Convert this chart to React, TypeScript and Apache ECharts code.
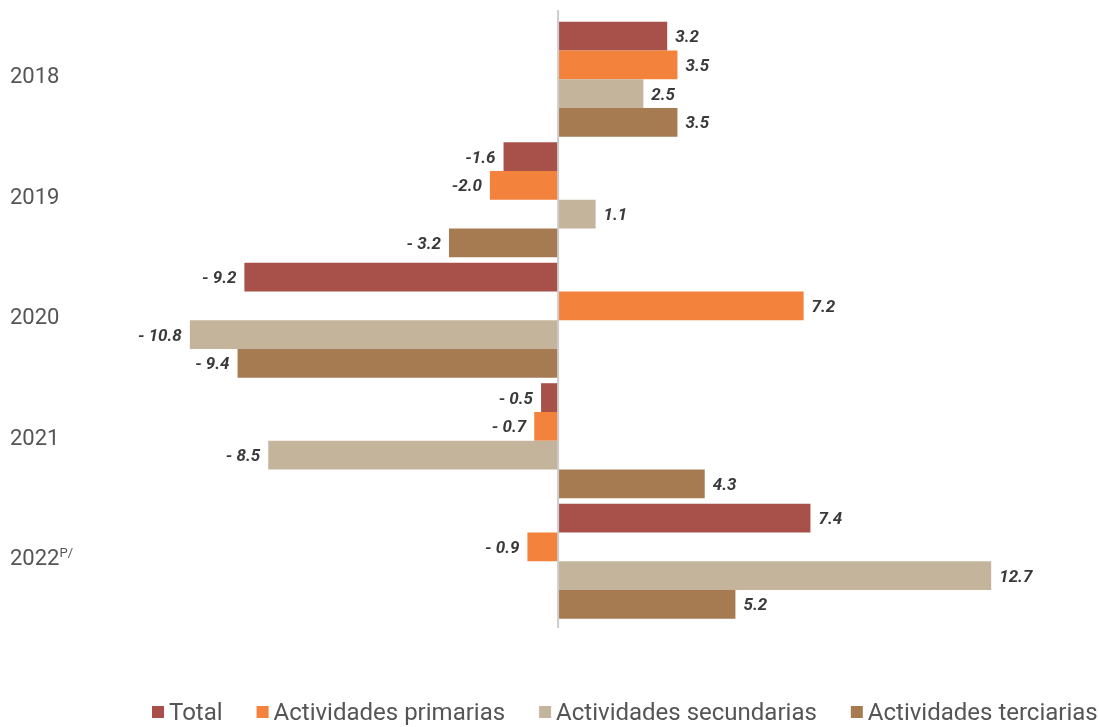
import React, { useEffect, useRef } from "react";
import * as echarts from "echarts";

const categories = ["2018", "2019", "2020", "2021", "2022P/"];
const seriesNames = ["Total", "Actividades primarias", "Actividades secundarias", "Actividades terciarias"];
const totalValues = [3.2, -1.6, -9.2, -0.5, 7.4];
const primariasValues = [3.5, -2.0, 7.2, -0.7, -0.9];
const secundariasValues = [2.5, 1.1, -10.8, -8.5, 12.7];
const terciariasValues = [3.5, -3.2, -9.4, 4.3, 5.2];
const totalLabels = ["3.2", "-1.6", "- 9.2", "- 0.5", "7.4"];
const primariasLabels = ["3.5", "-2.0", "7.2", "- 0.7", "- 0.9"];
const secundariasLabels = ["2.5", "1.1", "- 10.8", "- 8.5", "12.7"];
const terciariasLabels = ["3.5", "- 3.2", "- 9.4", "4.3", "5.2"];
const colors = ["#a8514a", "#f3823c", "#c4b49c", "#a67b51"];

export default function App() {
  const ref = useRef<HTMLDivElement>(null);
  useEffect(() => {
    if (!ref.current) return;
    const chart = echarts.init(ref.current, undefined, { renderer: "svg" });
    const allValues = [totalValues, primariasValues, secundariasValues, terciariasValues];
    const allLabels = [totalLabels, primariasLabels, secundariasLabels, terciariasLabels];
    chart.setOption({
      animation: false,
      textStyle: { fontFamily: "Roboto" },
      grid: { left: 183, right: 97.6, top: 19, bottom: 105.5, containLabel: false },
      xAxis: { type: "value", min: -11, max: 13, show: false },
      yAxis: {
        type: "category",
        data: categories,
        inverse: true,
        axisLine: { show: false },
        axisTick: { show: false },
        axisLabel: {
          align: "left",
          margin: 173,
          formatter: (v: string) =>
            v.endsWith("P/") ? `{y|${v.slice(0, -2)}}{s|P/}` : `{y|${v}}`,
          rich: {
            y: { fontSize: 22, color: "#555555", fontFamily: "Roboto", padding: [0, 0, 7, 0] },
            s: { fontSize: 13, color: "#555555", fontFamily: "Roboto", padding: [0, 0, 17, 0] },
          },
        },
      },
      legend: {
        left: 152,
        top: 700,
        padding: 0,
        itemWidth: 12,
        itemHeight: 12,
        itemGap: 34,
        icon: "rect",
        textStyle: { fontSize: 24, color: "#555555", fontFamily: "Roboto" },
        data: seriesNames,
      },
      series: seriesNames.map((name, si) => ({
        name,
        type: "bar",
        barGap: "0%",
        barCategoryGap: "4.5%",
        itemStyle: { color: colors[si] },
        data: allValues[si].map((v) => ({
          value: v,
          label: { position: v < 0 ? "left" : "right" },
        })),
        label: {
          show: true,
          distance: 8,
          fontSize: 17,
          fontStyle: "italic",
          fontWeight: "bold",
          color: "#3a3a3a",
          fontFamily: "Roboto",
          formatter: (p: any) => allLabels[si][p.dataIndex],
        },
      })),
    });
    const x0 = chart.convertToPixel({ xAxisIndex: 0 }, 0) as number;
    chart.setOption({
      graphic: [
        {
          type: "line",
          z: 100,
          shape: { x1: x0, y1: 10, x2: x0, y2: 628 },
          style: { stroke: "#cccccc", lineWidth: 2 },
        },
      ],
    });
    return () => chart.dispose();
  }, []);
  return <div ref={ref} style={{ position: "fixed", left: 0, top: 0, width: 1099, height: 727 }} />;
}
